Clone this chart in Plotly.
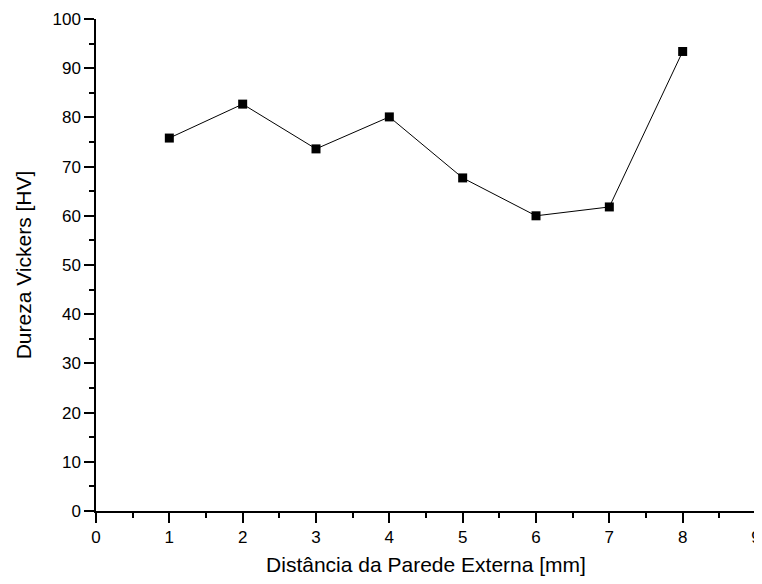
import plotly.graph_objects as go

distancia = [1, 2, 3, 4, 5, 6, 7, 8]
dureza = [75.8, 82.7, 73.6, 80.1, 67.7, 60.0, 61.8, 93.4]

x_ticks = [0, 1, 2, 3, 4, 5, 6, 7, 8, 9]
y_ticks = [0, 10, 20, 30, 40, 50, 60, 70, 80, 90, 100]

FONT = "Liberation Sans, Arial, sans-serif"

fig = go.Figure()
fig.add_trace(go.Scatter(
    x=distancia, y=dureza, mode="lines+markers",
    line=dict(color="black", width=1),
    marker=dict(symbol="square", size=9, color="black"),
    showlegend=False, cliponaxis=False,
))

tick_font = dict(family=FONT, size=17, color="black")
title_font = dict(family=FONT, size=21, color="black")


def axis(vals, rng, dminor, title, standoff):
    return dict(
        range=rng, tickvals=vals, automargin=False,
        showline=True, linecolor="black", linewidth=1.5,
        ticks="outside", ticklen=10, tickwidth=1.5, tickcolor="black",
        showgrid=False, zeroline=False, tickfont=tick_font,
        ticklabeloverflow="allow",
        minor=dict(ticks="outside", ticklen=5, tickwidth=1.5, tickcolor="black", dtick=dminor),
        title=dict(text=title, font=title_font, standoff=standoff),
    )


fig.update_layout(
    width=754, height=568,
    margin=dict(l=88, r=6, t=11, b=65, autoexpand=False),
    plot_bgcolor="white", paper_bgcolor="white",
    xaxis=axis(x_ticks, [0, 9.0], 0.5, "Distância da Parede Externa [mm]", 12),
    yaxis=axis(y_ticks, [0, 100], 5, "Dureza Vickers [HV]", 15),
)

fig.write_html("out.html")
